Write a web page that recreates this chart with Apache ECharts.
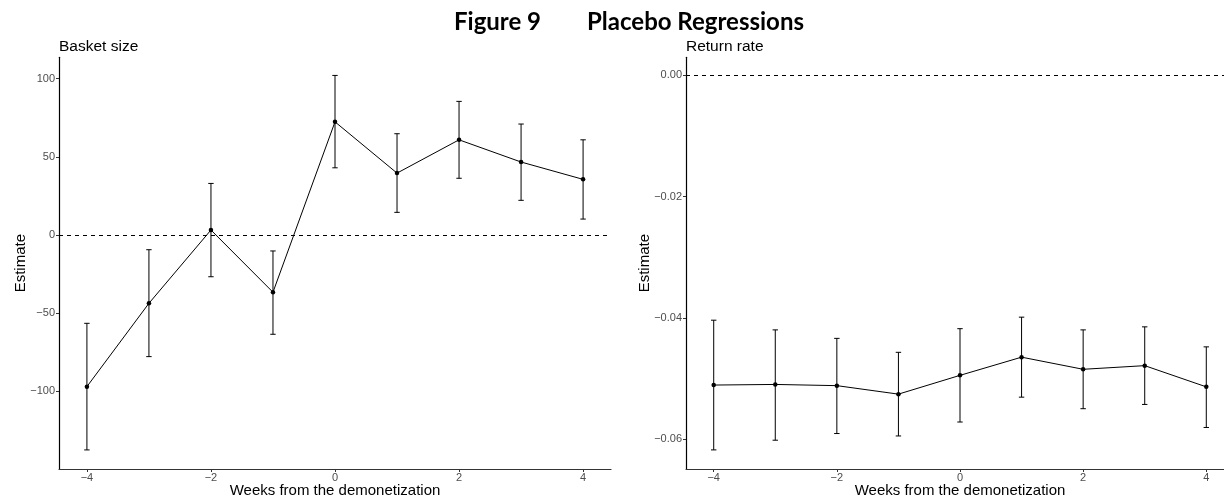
<!DOCTYPE html>
<html>
<head>
<meta charset="utf-8">
<script src="https://cdn.jsdelivr.net/npm/echarts@6/dist/echarts.min.js"></script>
<style>
  html, body { margin: 0; padding: 0; background: #fff; }
  #chart { width: 1224px; height: 497px; }
</style>
</head>
<body>
<div id="chart"></div>
<script>
// weeks relative to the demonetization
const weeks = [-4, -3, -2, -1, 0, 1, 2, 3, 4]
const xTicks = [-4, -2, 0, 2, 4]

// basket size estimates and 95% bounds
const basketEst = [-97.0, -43.7, 3.2, -36.6, 72.4, 39.6, 60.9, 46.7, 35.6]
const basketLo = [-137.5, -77.8, -26.7, -63.5, 43.0, 14.5, 36.3, 22.2, 10.2]
const basketHi = [-56.5, -9.4, 33.0, -10.2, 102.1, 64.8, 85.5, 71.0, 60.9]
const basketTicks = [-100, -50, 0, 50, 100]

// return rate estimates and 95% bounds
const returnEst = [-0.0511, -0.0510, -0.0512, -0.0526, -0.0495, -0.0465, -0.0485, -0.0479, -0.0514]
const returnLo = [-0.0618, -0.0602, -0.0591, -0.0595, -0.0572, -0.0531, -0.0550, -0.0543, -0.0581]
const returnHi = [-0.0404, -0.0420, -0.0434, -0.0457, -0.0418, -0.0399, -0.0420, -0.0415, -0.0448]
const returnTicks = [-0.06, -0.04, -0.02, 0]

const minus = s => String(s).replace('-', '\u2212')
const axisFont = 'Liberation Sans, Arial, sans-serif'

function errorBar(params, api) {
  const x = api.value(0)
  const top = api.coord([x, api.value(2)])
  const bot = api.coord([x, api.value(1)])
  const w = 2.7
  const style = {stroke: '#000', lineWidth: 1}
  return {
    type: 'group',
    children: [
      {type: 'line', shape: {x1: top[0], y1: top[1], x2: bot[0], y2: bot[1]}, style},
      {type: 'line', shape: {x1: top[0] - w, y1: top[1], x2: top[0] + w, y2: top[1]}, style},
      {type: 'line', shape: {x1: bot[0] - w, y1: bot[1], x2: bot[0] + w, y2: bot[1]}, style}
    ]
  }
}

function xAxis(idx) {
  return {
    type: 'value', gridIndex: idx, min: -4.45, max: 4.45,
    name: 'Weeks from the demonetization', nameLocation: 'middle', nameGap: 14, nameMoveOverlap: false,
    nameTextStyle: {color: '#000', fontSize: 15, fontFamily: axisFont},
    axisLine: {onZero: false, lineStyle: {color: '#333', width: 1.2}},
    axisTick: {show: true, length: 3, customValues: xTicks, lineStyle: {color: '#333'}},
    axisLabel: {customValues: xTicks, margin: 3, color: '#4d4d4d', fontSize: 11, fontFamily: axisFont, formatter: v => minus(v)},
    splitLine: {show: false}
  }
}

function yAxis(idx, min, max, ticks, fmt, gap) {
  return {
    type: 'value', gridIndex: idx, min, max,
    name: 'Estimate', nameLocation: 'middle', nameGap: gap, nameMoveOverlap: false,
    nameTextStyle: {color: '#000', fontSize: 15, fontFamily: axisFont},
    axisLine: {show: true, onZero: false, lineStyle: {color: '#000', width: 1.2}},
    axisTick: {show: true, length: 3, customValues: ticks, lineStyle: {color: '#333'}},
    axisLabel: {customValues: ticks, margin: 4, color: '#4d4d4d', fontSize: 11, fontFamily: axisFont, formatter: fmt},
    splitLine: {show: false}
  }
}

function zeroLine() {
  return {
    silent: true, symbol: 'none', label: {show: false},
    lineStyle: {color: '#000', width: 1, type: [4, 4]},
    data: [{yAxis: 0}]
  }
}

const chart = echarts.init(document.getElementById('chart'), null, {renderer: 'canvas'})
chart.setOption({
  animation: false,
  backgroundColor: '#fff',
  graphic: [
    {type: 'text', left: 454, top: 10, style: {text: 'Figure 9', font: 'bold 24px Lato, sans-serif', fill: '#000'}},
    {type: 'text', left: 587, top: 10, style: {text: 'Placebo Regressions', font: 'bold 24px Lato, sans-serif', fill: '#000'}},
    {type: 'text', left: 59, top: 39, style: {text: 'Basket size', font: '15.5px Liberation Sans, Arial, sans-serif', fill: '#000'}},
    {type: 'text', left: 686, top: 39, style: {text: 'Return rate', font: '15.5px Liberation Sans, Arial, sans-serif', fill: '#000'}}
  ],
  grid: [
    {left: 59, top: 57.3, width: 552, height: 411.7, containLabel: false, outerBoundsMode: 'none'},
    {left: 686, top: 57.3, width: 548, height: 411.7, containLabel: false, outerBoundsMode: 'none'}
  ],
  xAxis: [xAxis(0), xAxis(1)],
  yAxis: [
    yAxis(0, -149.7, 113.7, basketTicks, v => minus(v), 31),
    yAxis(1, -0.06495, 0.00297, returnTicks, v => minus(v.toFixed(2)), 34)
  ],
  series: [
    {
      type: 'custom', xAxisIndex: 0, yAxisIndex: 0, renderItem: errorBar,
      data: weeks.map((w, i) => [w, basketLo[i], basketHi[i]])
    },
    {
      type: 'line', xAxisIndex: 0, yAxisIndex: 0,
      data: weeks.map((w, i) => [w, basketEst[i]]),
      symbol: 'circle', symbolSize: 4.5,
      itemStyle: {color: '#000'}, lineStyle: {color: '#000', width: 1},
      markLine: zeroLine()
    },
    {
      type: 'custom', xAxisIndex: 1, yAxisIndex: 1, renderItem: errorBar,
      data: weeks.map((w, i) => [w, returnLo[i], returnHi[i]])
    },
    {
      type: 'line', xAxisIndex: 1, yAxisIndex: 1,
      data: weeks.map((w, i) => [w, returnEst[i]]),
      symbol: 'circle', symbolSize: 4.5,
      itemStyle: {color: '#000'}, lineStyle: {color: '#000', width: 1},
      markLine: zeroLine()
    }
  ]
})
</script>
</body>
</html>
